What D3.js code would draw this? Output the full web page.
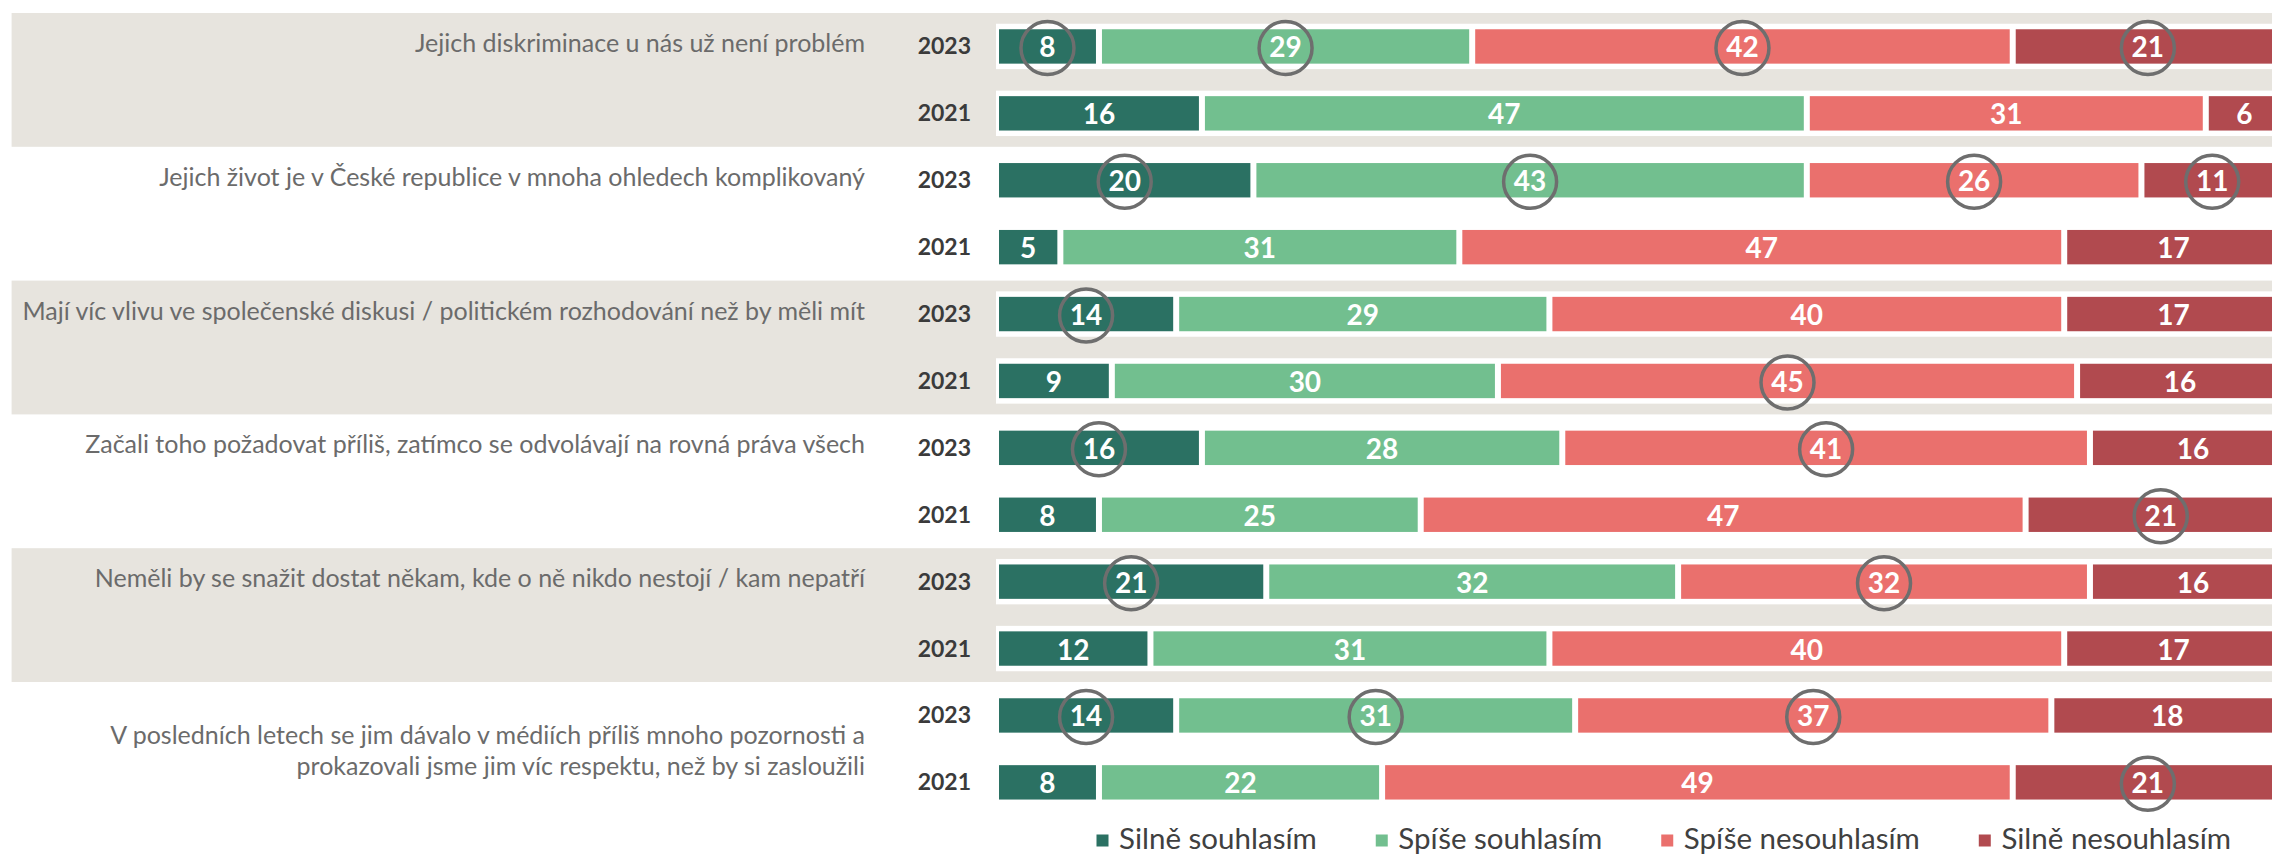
<!DOCTYPE html>
<html>
<head>
<meta charset="utf-8">
<script src="https://cdn.jsdelivr.net/npm/d3@7"></script>
<style>
  html, body { margin: 0; padding: 0; background: #ffffff; }
  svg { display: block; }
</style>
</head>
<body>
<script>
// ---------------- DATA ----------------
const categories = [
  "Jejich diskriminace u nás už není problém",
  "Jejich život je v České republice v mnoha ohledech komplikovaný",
  "Mají víc vlivu ve společenské diskusi / politickém rozhodování než by měli mít",
  "Začali toho požadovat příliš, zatímco se odvolávají na rovná práva všech",
  "Neměli by se snažit dostat někam, kde o ně nikdo nestojí / kam nepatří",
  "V posledních letech se jim dávalo v médiích příliš mnoho pozornosti a\nprokazovali jsme jim víc respektu, než by si zasloužili"
];
const years = ["2023", "2021"];
const seriesNames = ["Silně souhlasím", "Spíše souhlasím", "Spíše nesouhlasím", "Silně nesouhlasím"];
// rows in order: cat1-2023, cat1-2021, cat2-2023, cat2-2021, ...
const silneSouhlasim    = [8, 16, 20, 5, 14, 9, 16, 8, 21, 12, 14, 8];
const spiseSouhlasim    = [29, 47, 43, 31, 29, 30, 28, 25, 32, 31, 31, 22];
const spiseNesouhlasim  = [42, 31, 26, 47, 40, 45, 41, 47, 32, 40, 37, 49];
const silneNesouhlasim  = [21, 6, 11, 17, 17, 16, 16, 21, 16, 17, 18, 21];
// which values are highlighted with a circle (1 = circled), per row, per series
const circled = [
  [1,1,1,1],[0,0,0,0],
  [1,1,1,1],[0,0,0,0],
  [1,0,0,0],[0,0,1,0],
  [1,0,1,0],[0,0,0,1],
  [1,0,1,0],[0,0,0,0],
  [1,1,1,0],[0,0,0,1]
];
const colors = ["#2b7163", "#72bf8f", "#ea706d", "#b14a4f"];

// ---------------- LAYOUT ----------------
const W = 2272, H = 856;
const FONT = "Lato, 'Open Sans', sans-serif";
const series = [silneSouhlasim, spiseSouhlasim, spiseNesouhlasim, silneNesouhlasim];
const nRows = silneSouhlasim.length;
const rows = d3.range(nRows).map(i => {
  let c = 0;
  const segs = series.map((s, k) => {
    const seg = { k, v: s[i], x0: c, x1: c + s[i], circ: circled[i][k] };
    c += s[i];
    return seg;
  });
  return { i, year: years[i % 2], group: Math.floor(i / 2), segs };
});

const y = d3.scaleBand()
  .domain(d3.range(nRows))
  .range([13, 13 + 66.9 * nRows])
  .paddingInner(0.486)
  .paddingOuter(0.243);
const step = y.step();
const cy = i => y(i) + y.bandwidth() / 2;

const x = d3.scaleLinear().domain([0, 100]).range([996, 2283]);
const gap = 3;

const svg = d3.select("body").append("svg")
  .attr("width", W).attr("height", H)
  .attr("viewBox", `0 0 ${W} ${H}`);

svg.append("rect").attr("width", W).attr("height", H).attr("fill", "#ffffff");

// gray group bands (alternate groups)
svg.append("g").selectAll("rect")
  .data(categories.map((c, g) => g).filter(g => g % 2 === 0))
  .join("rect")
  .attr("x", 11.6)
  .attr("y", g => cy(2 * g) - step / 2)
  .attr("width", W - 11.6)
  .attr("height", g => cy(2 * g + 1) - cy(2 * g) + step)
  .attr("fill", "#e7e4de");

// white backing per row
svg.append("g").selectAll("rect")
  .data(rows)
  .join("rect")
  .attr("x", x(0))
  .attr("y", d => y(d.i) - 5.5)
  .attr("width", W - x(0))
  .attr("height", y.bandwidth() + 11)
  .attr("fill", "#ffffff");

// bars
const rowG = svg.append("g").selectAll("g")
  .data(rows)
  .join("g");

rowG.selectAll("rect")
  .data(d => d.segs.map(s => ({ ...s, i: d.i })))
  .join("rect")
  .attr("x", s => x(s.x0) + gap)
  .attr("y", s => y(s.i))
  .attr("width", s => Math.max(0, x(s.x1) - x(s.x0) - 2 * gap))
  .attr("height", y.bandwidth())
  .attr("fill", s => colors[s.k]);

// value labels
rowG.selectAll("text")
  .data(d => d.segs.map(s => ({ ...s, i: d.i })))
  .join("text")
  .attr("x", s => x((s.x0 + s.x1) / 2))
  .attr("y", s => cy(s.i) + 11)
  .attr("text-anchor", "middle")
  .attr("font-family", FONT)
  .attr("font-weight", 700)
  .attr("font-size", 28)
  .attr("fill", "#ffffff")
  .text(s => s.v);

// circles
rowG.selectAll("circle")
  .data(d => d.segs.filter(s => s.circ).map(s => ({ ...s, i: d.i })))
  .join("circle")
  .attr("cx", s => x((s.x0 + s.x1) / 2))
  .attr("cy", s => cy(s.i) + 1.5)
  .attr("r", 26.5)
  .attr("fill", "none")
  .attr("stroke", "#6e6e6e")
  .attr("stroke-width", 3.5);

// year labels
svg.append("g").selectAll("text")
  .data(rows)
  .join("text")
  .attr("x", 971)
  .attr("y", d => cy(d.i) + 8)
  .attr("text-anchor", "end")
  .attr("font-family", FONT)
  .attr("font-weight", 700)
  .attr("font-size", 23)
  .attr("fill", "#3b3b3b")
  .text(d => d.year);

// category labels
const catG = svg.append("g").selectAll("text")
  .data(categories.map((c, g) => ({ g, lines: c.split("\n") })))
  .join("text")
  .attr("text-anchor", "end")
  .attr("font-family", FONT)
  .attr("font-size", 25)
  .attr("fill", "#6b6b6b");

catG.each(function(d) {
  const t = d3.select(this);
  const groupCenter = (cy(2 * d.g) + cy(2 * d.g + 1)) / 2;
  d.lines.forEach((ln, j) => {
    let by;
    if (d.lines.length === 1) by = cy(2 * d.g) + 5.5;
    else by = groupCenter - 5 + j * 31;
    t.append("tspan").attr("x", 865).attr("y", by).text(ln);
  });
});

// legend
const leg = svg.append("g");
let lx = 1096.5;
seriesNames.forEach((name, k) => {
  leg.append("rect")
    .attr("x", lx).attr("y", 834.5).attr("width", 12).attr("height", 12)
    .attr("fill", colors[k]);
  const t = leg.append("text")
    .attr("x", lx + 22.6).attr("y", 849)
    .attr("font-family", FONT)
    .attr("font-size", 29.5)
    .attr("fill", "#404040")
    .text(name);
  const w = t.node().getComputedTextLength();
  lx = lx + 22.6 + w + 59;
});
</script>
</body>
</html>
